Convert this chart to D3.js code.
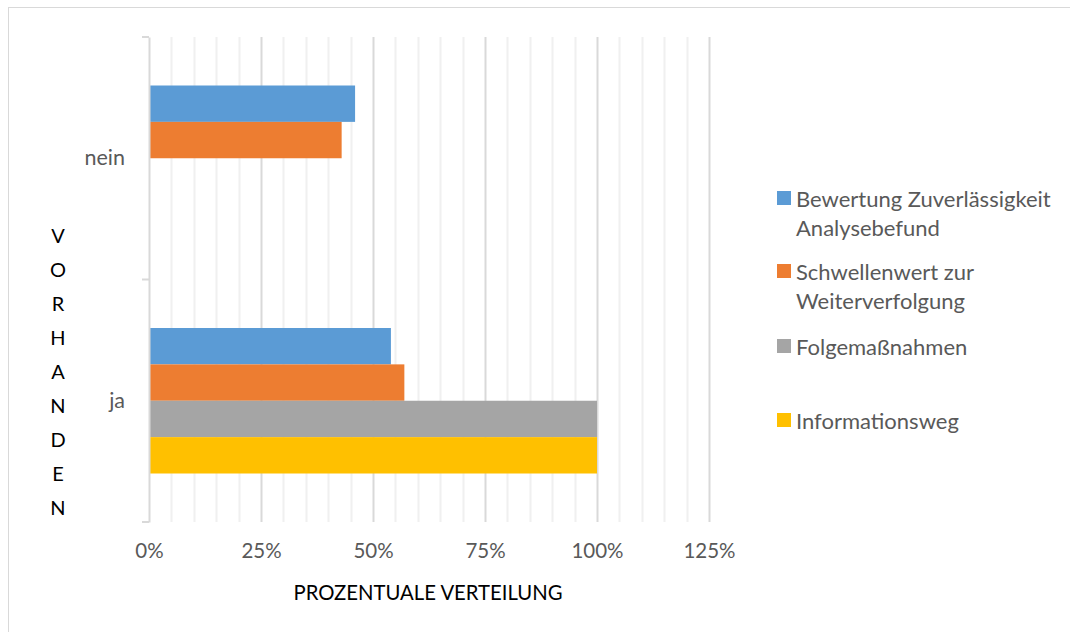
<!DOCTYPE html>
<html>
<head>
<meta charset="utf-8">
<script src="https://cdn.jsdelivr.net/npm/d3@7/dist/d3.min.js"></script>
<style>
  html, body { margin: 0; padding: 0; background: #fff; }
  svg { display: block; font-family: Lato, "Open Sans", sans-serif; }
</style>
</head>
<body>
<svg id="chart" width="1070" height="632"></svg>
<script>
// Categories (top-to-bottom) and series
const categories = ["nein", "ja"];
const seriesNames = [
  "Bewertung Zuverlässigkeit Analysebefund",
  "Schwellenwert zur Weiterverfolgung",
  "Folgemaßnahmen",
  "Informationsweg"
];
const legendLines = [
  ["Bewertung Zuverlässigkeit", "Analysebefund"],
  ["Schwellenwert zur", "Weiterverfolgung"],
  ["Folgemaßnahmen"],
  ["Informationsweg"]
];
const bewertung = [0.46, 0.54];
const schwellenwert = [0.43, 0.57];
const folgemassnahmen = [0, 1.00];
const informationsweg = [0, 1.00];
const seriesValues = [bewertung, schwellenwert, folgemassnahmen, informationsweg];
const colors = ["#5B9BD5", "#ED7D31", "#A5A5A5", "#FFC000"];
const xTicks = [0, 0.25, 0.5, 0.75, 1.0, 1.25];
const axisTitle = "PROZENTUALE VERTEILUNG";
const yTitle = "VORHANDEN";

const svg = d3.select("#chart");

// Outer chart frame
svg.append("rect")
  .attr("x", 8.5).attr("y", 7.5)
  .attr("width", 1080).attr("height", 640)
  .attr("fill", "none").attr("stroke", "#d9d9d9").attr("stroke-width", 1);

const plot = { left: 149, right: 709, top: 37, bottom: 522 };

const x = d3.scaleLinear().domain([0, 1.25]).range([plot.left, plot.right]);
const y = d3.scaleBand().domain(categories).range([plot.top, plot.bottom]).paddingInner(0).paddingOuter(0);
const groupH = y.bandwidth() * 0.6;
const inner = d3.scaleBand().domain(d3.range(seriesNames.length)).range([0, groupH]);

// Vertical gridlines: minor every 5 %, major every 25 %
const gridVals = d3.range(1, 26).map(i => i * 0.05);
svg.append("g").selectAll("line")
  .data(gridVals)
  .join("line")
  .attr("x1", d => Math.round(x(d)) + 0.5)
  .attr("x2", d => Math.round(x(d)) + 0.5)
  .attr("y1", plot.top)
  .attr("y2", plot.bottom)
  .attr("stroke", (d, i) => ((i + 1) % 5 === 0) ? "#d9d9d9" : "#f0f0f0")
  .attr("stroke-width", 2);

// Bars
const bars = svg.append("g");
seriesValues.forEach((vals, si) => {
  bars.selectAll(null)
    .data(categories.map((c, ci) => ({ c, v: vals[ci] })))
    .join("rect")
    .filter(d => d.v > 0)
    .attr("x", x(0))
    .attr("y", d => y(d.c) + (y.bandwidth() - groupH) / 2 + inner(si))
    .attr("width", d => x(d.v) - x(0))
    .attr("height", inner.bandwidth())
    .attr("fill", colors[si]);
});

// Category axis with tick marks on band boundaries
const yAxis = d3.axisLeft(y).tickSize(0).tickPadding(24);
const yg = svg.append("g").attr("transform", `translate(${plot.left},0)`).call(yAxis);
yg.select(".domain").attr("stroke", "#d9d9d9").attr("stroke-width", 2);
yg.selectAll(".tick text")
  .attr("fill", "#595959").style("font-size", "21.5px")
  .style("font-family", "Lato, sans-serif");
svg.append("g").selectAll("line")
  .data([plot.top, y("ja"), plot.bottom])
  .join("line")
  .attr("x1", plot.left - 7).attr("x2", plot.left)
  .attr("y1", d => d).attr("y2", d => d)
  .attr("stroke", "#d9d9d9").attr("stroke-width", 2);

// Value axis labels
const xAxis = d3.axisBottom(x).tickValues(xTicks).tickFormat(d3.format(".0%")).tickSize(0).tickPadding(21);
const xg = svg.append("g").attr("transform", `translate(0,${plot.bottom})`).call(xAxis);
xg.select(".domain").remove();
xg.selectAll(".tick text")
  .attr("fill", "#595959").style("font-size", "20.5px")
  .style("font-family", "Lato, sans-serif");

// Axis titles
svg.append("text")
  .attr("x", 428).attr("y", 592)
  .attr("text-anchor", "middle").attr("dominant-baseline", "central")
  .attr("fill", "#000").style("font-size", "20.3px")
  .text(axisTitle);

svg.append("g").selectAll("text")
  .data(yTitle.split(""))
  .join("text")
  .attr("x", 58)
  .attr("y", (d, i) => 235 + i * 34)
  .attr("text-anchor", "middle").attr("dominant-baseline", "central")
  .attr("fill", "#000").style("font-size", "20px")
  .text(d => d);

// Legend
const legendY = [198, 271, 346, 420];
const legend = svg.append("g");
legendLines.forEach((lines, i) => {
  legend.append("rect")
    .attr("x", 777).attr("y", legendY[i] - 7)
    .attr("width", 14).attr("height", 14)
    .attr("fill", colors[i]);
  lines.forEach((t, j) => {
    legend.append("text")
      .attr("x", 796).attr("y", legendY[i] + j * 29)
      .attr("dominant-baseline", "central")
      .attr("fill", "#595959").style("font-size", "22px")
      .text(t);
  });
});
</script>
</body>
</html>
